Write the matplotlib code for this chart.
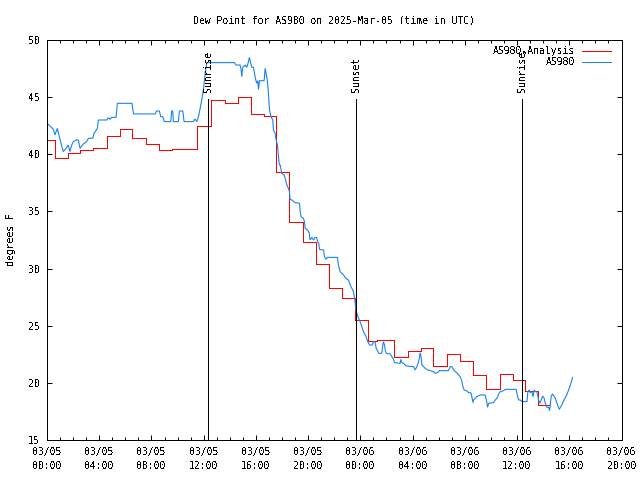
import matplotlib
matplotlib.use("Agg")

import matplotlib.pyplot as plt
from matplotlib.ticker import MultipleLocator

# hours since 2025-03-05 00:00 UTC
tick_hours = [0, 4, 8, 12, 16, 20, 24, 28, 32, 36, 40, 44]
tick_labels = ["03/05\n00:00", "03/05\n04:00", "03/05\n08:00", "03/05\n12:00",
               "03/05\n16:00", "03/05\n20:00", "03/06\n00:00", "03/06\n04:00",
               "03/06\n08:00", "03/06\n12:00", "03/06\n16:00", "03/06\n20:00"]

sun_hours = [12.36, 23.66, 36.38]
sun_labels = ["Sunrise", "Sunset", "Sunrise"]

# hourly analysis (step line)
analysis_hours = [0.0, 0.61, 1.58, 2.53, 3.55, 4.57, 5.59, 6.54, 7.59, 8.61, 9.6,
                  11.52, 12.54, 13.64, 14.66, 15.63, 16.63, 17.55, 18.57, 19.59,
                  20.61, 21.58, 22.58, 23.6, 24.57, 25.26, 26.54, 27.64, 28.66,
                  29.6, 30.63, 31.6, 32.62, 33.64, 34.66, 35.66, 36.58, 37.6, 38.49]
analysis_dewp = [41.25, 39.65, 40.08, 40.38, 40.58, 41.6, 42.18, 41.4, 40.87, 40.38,
                 40.46, 42.48, 44.75, 44.52, 44.98, 43.53, 43.35, 38.48, 34.11, 32.36,
                 30.37, 28.33, 27.46, 25.5, 23.66, 23.75, 22.23, 22.82, 23.02, 21.48,
                 22.53, 21.94, 20.69, 19.43, 20.78, 20.25, 19.29, 18.06, 18.06]

# station observations
obs_hours = [0.0, 0.23, 0.49, 0.61, 0.79, 0.95, 1.07, 1.25, 1.46, 1.63, 1.76, 1.89,
             2.02, 2.22, 2.4, 2.53, 2.66, 2.78, 3.04, 3.17, 3.5, 3.6, 3.86, 3.93,
             4.57, 4.7, 4.83, 4.96, 5.29, 5.39, 6.51, 6.62, 8.28, 8.4, 8.61, 8.71,
             8.86, 8.99, 9.48, 9.55, 9.63, 9.68, 10.06, 10.14, 10.4, 10.5, 11.21,
             11.34, 11.47, 11.6, 11.73, 11.85, 11.98, 12.11, 12.24, 14.36, 14.48,
             14.79, 14.87, 14.92, 14.99, 15.17, 15.3, 15.43, 15.5, 15.61, 15.68,
             15.81, 15.89, 15.99, 16.07, 16.14, 16.2, 16.27, 16.63, 16.71, 16.78,
             16.88, 16.96, 17.04, 17.14, 17.29, 17.34, 17.47, 17.55, 17.65, 17.73,
             17.8, 17.86, 17.98, 18.16, 18.24, 18.37, 18.49, 18.57, 18.62, 18.75,
             19.0, 19.34, 19.39, 19.46, 19.64, 19.72, 19.77, 19.95, 20.08, 20.15,
             20.28, 20.41, 20.54, 20.66, 20.72, 20.82, 20.87, 21.18, 21.25, 21.38,
             21.48, 22.25, 22.32, 22.45, 22.71, 22.89, 23.09, 23.22, 23.35, 23.47,
             23.58, 23.63, 23.73, 23.86, 23.98, 24.11, 24.24, 24.37, 24.44, 24.55,
             24.7, 24.9, 25.01, 25.13, 25.21, 25.31, 25.42, 25.64, 25.72, 25.77,
             25.85, 25.9, 25.98, 26.28, 26.41, 26.54, 26.62, 27.05, 27.1, 27.18,
             27.31, 27.51, 28.07, 28.2, 28.33, 28.46, 28.53, 28.58, 28.66, 28.71,
             28.84, 28.97, 29.14, 29.35, 29.6, 29.73, 29.91, 30.06, 30.75, 30.88,
             31.01, 31.14, 31.26, 31.39, 31.52, 31.65, 31.78, 31.85, 31.95, 32.16,
             32.29, 32.46, 32.54, 32.62, 32.67, 32.8, 32.92, 33.18, 33.56, 33.69,
             33.74, 33.82, 34.2, 34.33, 34.46, 34.59, 34.71, 34.97, 35.1, 35.94,
             35.99, 36.12, 36.24, 36.37, 36.76, 36.83, 36.93, 37.01, 37.14, 37.22,
             37.32, 37.39, 37.52, 37.65, 37.73, 37.85, 37.96, 38.08, 38.16, 38.29,
             38.42, 38.49, 38.62, 38.72, 38.93, 39.06, 39.23, 39.39, 39.57, 39.77,
             39.95, 40.08, 40.26]
obs_dewp = [42.71, 42.48, 42.18, 41.69, 42.27, 41.54, 40.96, 40.23, 40.52, 40.81, 40.23, 40.81,
            41.11, 41.25, 41.25, 40.52, 40.73, 40.9, 41.11, 41.4, 41.4, 41.83, 42.27, 43.0,
            43.0, 43.2, 43.06, 43.23, 43.23, 44.46, 44.46, 43.53, 43.53, 43.79, 43.79, 43.29,
            43.29, 42.86, 42.86, 43.79, 43.79, 42.86, 42.86, 43.79, 43.79, 42.86, 42.86,
            43.09, 42.86, 43.29, 44.02, 44.75, 45.63, 47.08, 48.02, 48.02, 47.81,
            47.81, 47.38, 46.79, 47.61, 47.81, 47.61, 48.1, 48.48, 47.96, 47.61,
            47.61, 47.08, 46.5, 46.21, 46.44, 45.68, 46.44, 46.44, 47.52, 47.08,
            46.44, 45.33, 43.88, 43.35, 43.0, 42.13, 41.83, 41.25, 40.81, 39.79,
            39.06, 39.06, 38.33, 38.19, 37.9, 37.31, 37.02, 36.73, 36.06, 36.0,
            35.77, 35.71, 34.98, 34.54, 34.4, 34.1, 33.52, 33.38, 33.14, 32.5,
            32.73, 32.5, 32.73, 32.73, 32.36, 32.21, 31.68, 31.63, 31.04, 30.81,
            30.98, 30.98, 30.31, 29.73, 29.44, 29.15, 29.0, 28.56, 28.27, 27.98,
            27.25, 26.67, 26.08, 25.65, 25.36, 24.92, 24.48, 24.19, 24.04, 23.66,
            23.31, 23.31, 23.6, 23.6, 23.02, 22.82, 22.58, 22.58, 23.31, 23.6,
            23.31, 22.88, 22.58, 22.53, 22.29, 22.06, 21.77, 21.71, 22.06, 21.77,
            21.71, 21.48, 21.42, 21.13, 21.42, 21.85, 22.23, 22.64, 22.23, 21.56,
            21.42, 21.27, 21.13, 21.07, 20.98, 20.83, 20.89, 21.07, 21.07, 21.42,
            21.42, 21.13, 20.98, 20.89, 20.69, 20.54, 20.1, 19.67, 19.38, 19.29,
            19.14, 19.14, 18.79, 18.27, 18.5, 18.65, 18.79, 18.94, 18.94, 18.27,
            17.86, 18.21, 18.27, 18.5, 18.65, 19.03, 19.23, 19.32, 19.43, 19.43,
            19.08, 18.5, 18.5, 18.36, 18.36, 19.23, 19.38, 19.14, 19.23, 18.79,
            19.38, 19.23, 19.23, 18.5, 18.21, 18.5, 18.85, 18.65, 18.21, 17.86,
            17.86, 17.57, 18.85, 19.03, 18.65, 18.21, 17.68, 17.98, 18.44, 18.85,
            19.38, 19.81, 20.48]

plt.rcParams['font.family'] = ['DejaVu Sans Mono', 'DejaVu Sans']
plt.rcParams['font.size'] = 7
plt.rcParams['text.antialiased'] = False

fig = plt.figure(figsize=(6.4, 4.8), dpi=100)
ax = fig.add_axes([47 / 640, 40 / 480, 574.5 / 640, 400 / 480])

LW = 0.72  # one pixel at 100 dpi

ax.plot(analysis_hours, analysis_dewp, drawstyle="steps-post", color="#ff0000",
        lw=LW, antialiased=False, label="AS980\u2090Analysis")
ax.plot(obs_hours, obs_dewp, color="#1a82f0", lw=0.8, antialiased=True,
        solid_joinstyle="miter", label="AS980")

for h, name in zip(sun_hours, sun_labels):
    ax.plot([h, h], [15, 44.81], color="black", lw=LW, antialiased=False)
    ax.text(h, 45.45, name, rotation=90, ha="center", va="bottom")

ax.set_xlim(0, 44)
ax.set_ylim(15, 50)
ax.set_xticks(tick_hours)
ax.set_xticklabels(tick_labels)
for lbl in ax.get_xticklabels():
    lbl.set_linespacing(1.55)
ax.xaxis.set_minor_locator(MultipleLocator(1))
ax.yaxis.set_major_locator(MultipleLocator(5))
ax.tick_params(which="both", direction="in", top=True, right=True, width=LW, color="black")
ax.tick_params(which="major", length=3.6)
ax.tick_params(which="minor", length=2.2)
ax.tick_params(axis="x", which="major", pad=5)
ax.tick_params(axis="y", which="major", pad=5)
for s in ax.spines.values():
    s.set_linewidth(LW)
    s.set_antialiased(False)

ax.set_ylabel("degrees F", labelpad=9)
ax.set_title("Dew Point for AS980 on 2025-Mar-05 (time in UTC)", pad=12, fontsize=7)

leg = ax.legend(loc="upper right", bbox_to_anchor=(1 - 11 / 574.5, 1 - 6 / 400),
                frameon=False, markerfirst=False, borderaxespad=0, borderpad=0,
                handlelength=2.9, handletextpad=0.75, labelspacing=0.15)
leg.get_lines()[1].set_linewidth(LW)
leg.get_lines()[1].set_antialiased(False)

plt.savefig("out.png", dpi=100)
